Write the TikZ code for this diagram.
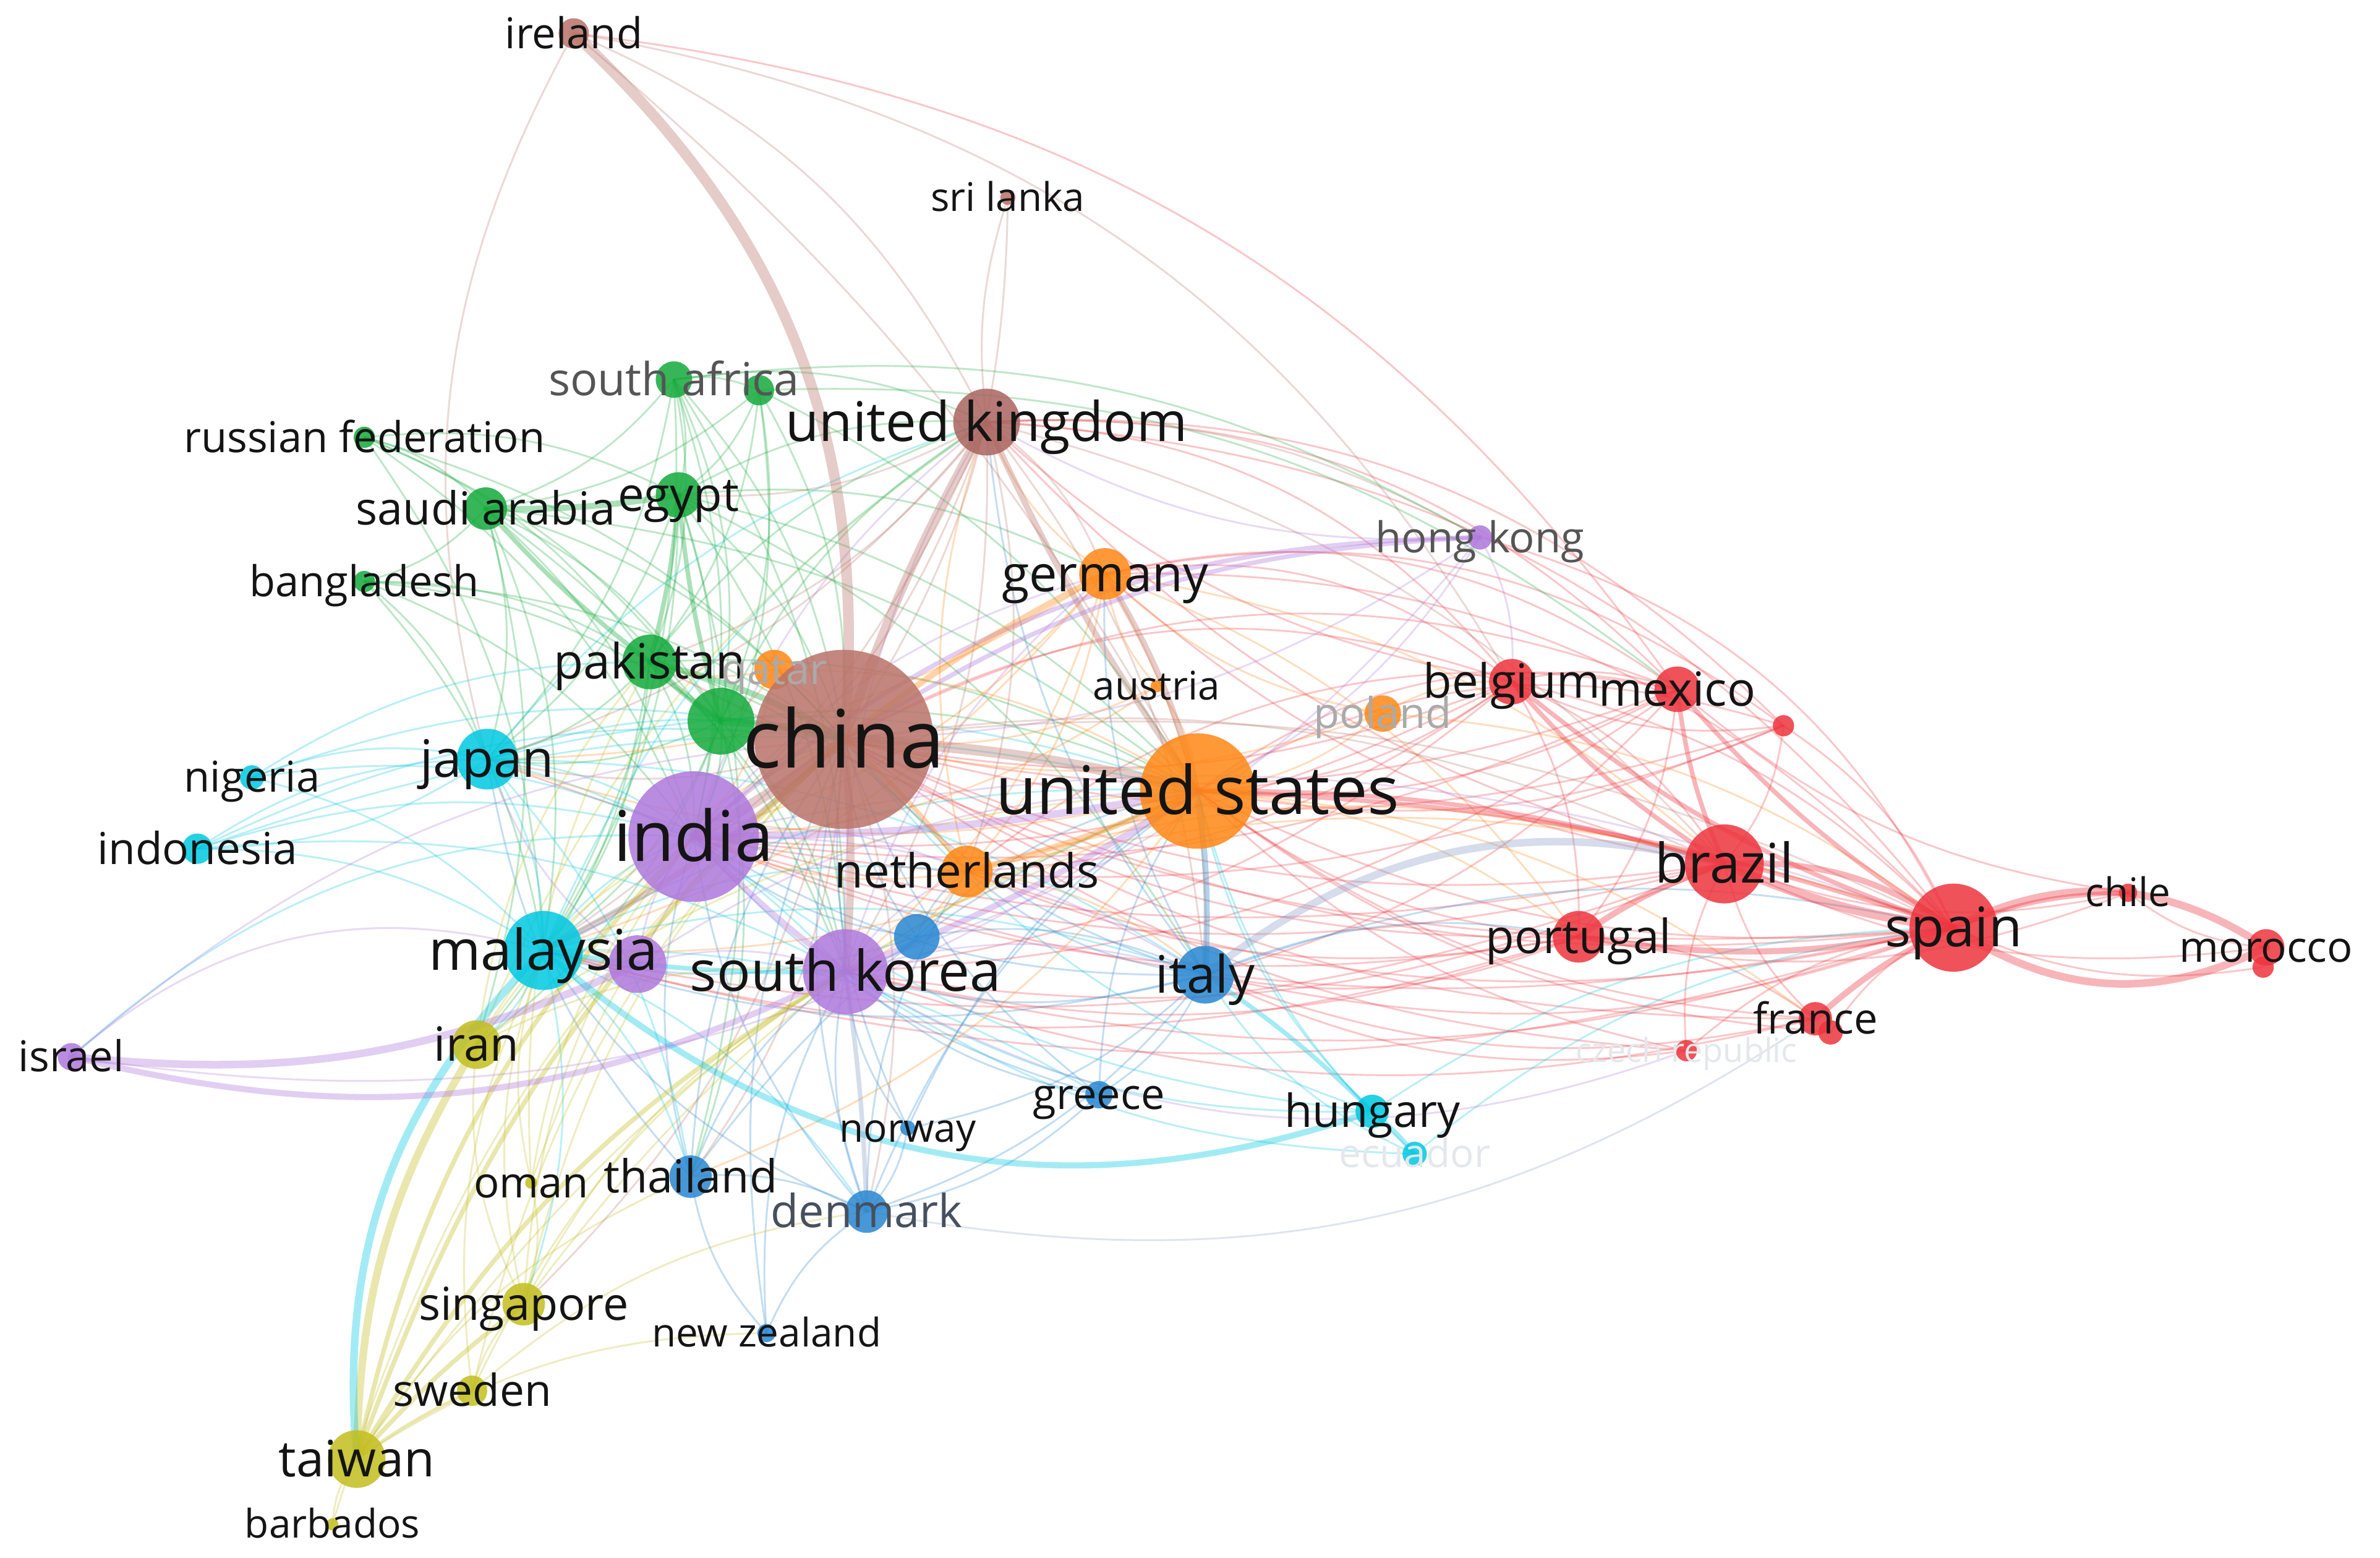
\documentclass[tikz,border=0pt]{standalone}
\usepackage{fontspec}
\setmainfont{Open Sans}
\pgfdeclarelayer{bgfill}
\pgfdeclarelayer{edges}
\pgfsetlayers{bgfill,edges,main}
\definecolor{cR}{RGB}{238,52,62}
\definecolor{cG}{RGB}{20,170,60}
\definecolor{cB}{RGB}{40,135,210}
\definecolor{cY}{RGB}{195,190,30}
\definecolor{cP}{RGB}{175,120,220}
\definecolor{cC}{RGB}{0,200,225}
\definecolor{cO}{RGB}{255,135,20}
\definecolor{cN}{RGB}{185,115,105}
\definecolor{cNd}{RGB}{170,100,95}
\definecolor{cIB}{RGB}{140,160,200}
\definecolor{txt}{RGB}{20,20,20}
\definecolor{gtxt}{RGB}{85,85,85}
\definecolor{ftxt}{RGB}{170,170,170}
\definecolor{vftxt}{RGB}{228,232,236}
\definecolor{dtxt}{RGB}{70,80,95}
\begin{document}
\begin{tikzpicture}[x=1pt,y=-1pt,
  dot/.style={circle,inner sep=0pt,minimum size=#1,draw=none,fill opacity=0.85},
  lab/.style={font=\fontsize{#1}{#1}\selectfont,inner sep=0pt,text height=0.7*#1pt,text depth=0pt,text=txt},
  edge/.style={draw opacity=0.28,line cap=round,line width=1.2pt},
  thick edge/.style={draw opacity=0.36,line cap=round},
]
\begin{pgfonlayer}{bgfill}
\fill[white] (0,0) rectangle (1568,1026);
\end{pgfonlayer}
\useasboundingbox (0,0) rectangle (1568,1026);
% nodes
\foreach \n/\x/\y/\r/\c in {
 ire/378/22/10/cN, sri/664/130/5/cN, saf/444/250/12/cG, gx/500/257/10/cG,
 uk/650/278/22/cNd, rus/240/288/7/cG, sau/320/335/14/cG, egy/447/326/15/cG,
 ban/240/383/7/cG, ger/728/378/17/cO, hk/975/354/8/cP, pak/428/436/18/cG,
 qat/510/441/13/cO, gc/475/475/22/cG, chn/556/487/59/cN, aut/762/452/4/cO,
 bel/996/449/15/cR, mex/1105/454/15/cR, pol/911/470/12/cO, rx/1175/478/7/cR,
 jpn/321/500/20/cC, nga/166/512/8/cC, usa/789/521/38/cO, ind/457/551/43/cP,
 idn/130/559/10/cC, nld/637/574/17/cO, bra/1136/569/26/cR, chl/1402/588/6/cR,
 esp/1287/611/29/cR, mar/1493/624/12/cR, mar2/1491/637/7/cR, prt/1040/617/17/cR,
 mys/358/626/26/cC, px/420/635/19/cP, kor/557/640/28/cP, bx/604/617/15/cB,
 ita/794/642/19/cB, fra/1196/671/11/cR, fra2/1206/680/8/cR, cze/1111/692/7/cR,
 isr/47/696/9/cP, irn/314/688/16/cY, grc/724/721/9/cB, hun/904/732/11/cC,
 nor/598/743/5/cB, ecu/932/760/8/cC, omn/350/779/4/cY, tha/455/775/14/cB,
 den/571/798/14/cB, sgp/345/859/14/cY, nzl/505/878/6/cB, swe/311/916/10/cY,
 twn/235/961/19/cY, brb/219/1004/4/cY}
 \node[dot=2*\r, fill=\c] (\n) at (\x,\y) {};
% edges
\begin{pgfonlayer}{edges}
\foreach \a/\b in {bel/chn,bel/usa,bel/esp,bel/bra,bel/ind,bel/uk,bel/prt,bel/mex,mex/usa,mex/chn,mex/prt,mex/ita,mex/kor,rx/esp,rx/bra,rx/usa,rx/chn,rx/bel,bra/chn,bra/kor,bra/ind,bra/uk,bra/mys,bra/ger,esp/chn,esp/usa,esp/ind,esp/kor,esp/ita,esp/mys,esp/nld,prt/chn,prt/usa,prt/ita,prt/kor,prt/fra,prt/ind,fra/bra,fra/usa,fra/chn,fra/ita,cze/esp,cze/bra,cze/usa,cze/chn,mar/bra,mar/chl,chl/bra,chl/mex,chl/prt,fra2/esp,fra2/usa,mar2/esp,prt/mys,bra/jpn,esp/pak,mex/ind,bel/kor,bel/nld,prt/nld,cze/ita,fra/kor,rx/ind}
 \draw[edge,draw=cR] (\a.center) to[bend left=16] (\b.center);
\foreach \a/\b in {uk/esp,uk/mex,uk/rx,ger/esp,ger/mex,ger/rx,ger/bel,ire/mex,usa/mex,nld/mex,chn/mex,chn/bel,usa/rx,uk/bel,hk/esp}
 \draw[edge,draw=cR] (\a.center) to[bend left=24] (\b.center);
\foreach \a/\b in {saf/egy,saf/sau,saf/pak,saf/chn,saf/gc,saf/gx,saf/ind,saf/mys,saf/jpn,saf/uk,gx/egy,gx/pak,gx/gc,gx/chn,gx/sau,gx/ind,gx/usa,rus/sau,rus/egy,rus/pak,rus/gc,rus/chn,rus/ind,sau/gc,sau/chn,sau/mys,sau/ind,sau/jpn,sau/usa,sau/ban,sau/kor,egy/chn,egy/mys,egy/ind,egy/usa,egy/kor,egy/jpn,egy/uk,egy/ita,ban/pak,ban/mys,ban/gc,ban/chn,ban/ind,pak/mys,pak/ind,pak/kor,pak/usa,pak/jpn,pak/uk,pak/irn,gc/mys,gc/ind,gc/kor,gc/usa,gc/uk,gc/jpn,gc/tha,rus/mys,ban/jpn,egy/ger,pak/nld,gc/irn,sau/irn,egy/tha,saf/kor}
 \draw[edge,draw=cG] (\a.center) to[bend left=16] (\b.center);
\foreach \a/\b in {jpn/chn,jpn/usa,jpn/ind,jpn/mys,jpn/kor,jpn/idn,jpn/tha,jpn/uk,nga/mys,nga/chn,nga/jpn,nga/ind,nga/pak,idn/mys,idn/chn,idn/jpn,idn/ind,idn/kor,mys/ind,mys/usa,mys/irn,mys/tha,mys/sgp,mys/uk,mys/ita,mys/nld,hun/usa,hun/chn,hun/kor,hun/esp,ecu/ita,ecu/usa,ecu/esp,ecu/kor,mys/den,mys/grc,jpn/ita,idn/usa,hun/ind}
 \draw[edge,draw=cC] (\a.center) to[bend left=16] (\b.center);
\foreach \a/\b in {ita/chn,ita/kor,ita/ind,ita/esp,ita/uk,ita/ger,ita/grc,ita/den,ita/nor,ita/nld,grc/chn,grc/kor,grc/usa,grc/den,nor/kor,nor/chn,nor/den,tha/chn,tha/kor,tha/ind,tha/usa,tha/den,den/chn,den/kor,den/usa,den/ind,den/mys,nzl/kor,nzl/chn,nzl/den,nzl/tha,bx/chn,bx/kor,bx/usa,bx/ita,bx/ind,bx/mys,ita/prt,ita/mys,grc/ind,den/nld,tha/jpn,nor/usa,bx/nld}
 \draw[edge,draw=cB] (\a.center) to[bend left=16] (\b.center);
\foreach \a/\b in {irn/chn,irn/ind,irn/kor,irn/usa,omn/chn,omn/mys,omn/ind,omn/sgp,sgp/chn,sgp/mys,sgp/kor,sgp/usa,sgp/ind,swe/chn,swe/mys,swe/kor,twn/usa,brb/twn,brb/chn,sgp/irn,swe/sgp,twn/tha,twn/nzl,swe/den,irn/pak,irn/uk,omn/pak}
 \draw[edge,draw=cY] (\a.center) to[bend left=16] (\b.center);
\foreach \a/\b in {hk/chn,hk/kor,hk/usa,hk/uk,ind/mys,ind/uk,ind/ita,ind/ger,px/chn,px/ind,px/kor,px/mys,kor/ita,kor/uk,kor/nld,ind/esp,hk/bel,px/jpn,kor/ger,px/usa,ind/nld}
 \draw[edge,draw=cP] (\a.center) to[bend left=16] (\b.center);
\foreach \a/\b in {ger/uk,ger/ind,ger/kor,ger/ita,ger/nld,ger/bra,ger/mys,qat/chn,qat/pak,qat/gc,qat/usa,aut/chn,aut/usa,aut/ger,pol/usa,pol/chn,pol/ger,pol/esp,pol/bel,nld/ind,nld/kor,nld/ita,nld/uk,usa/mys,usa/jpn,ger/prt,nld/esp,nld/bra,usa/prt,usa/fra,aut/ind,qat/ind,ger/jpn,usa/tha}
 \draw[edge,draw=cO] (\a.center) to[bend left=16] (\b.center);
\foreach \a/\b in {sri/chn,uk/ind,uk/mys,uk/bra,uk/hk,uk/ger,uk/pak,uk/egy,uk/kor,uk/jpn,uk/ita,uk/nld,chn/jpn,chn/tha,chn/den,chn/sgp,chn/bra,chn/esp}
 \draw[edge,draw=cN] (\a.center) to[bend left=16] (\b.center);
\draw[edge,draw=cN] (ire.center) to[bend left=20] (uk.center);
\draw[edge,draw=cN] (ire.center) to[bend left=10] (usa.center);
\draw[edge,draw=cN] (sri.center) to[bend right=12] (uk.center);
\draw[edge,draw=cN] (ire.center) to[bend right=22] (jpn.center);
\draw[edge,draw=cN] (ire.center) to[bend left=25] (bel.center);
\draw[edge,draw=cG] (gx.center) to[bend left=20] (mex.center);
\draw[edge,draw=cG] (saf.center) to[bend left=18] (hk.center);
\draw[edge,draw=cP] (kor.center) to[bend right=25] (cze.center);
\draw[edge,draw=cIB] (den.center) to[bend right=22] (fra.center);
\draw[edge,draw=cP] (isr.center) to[bend left=28] (mys.center);
\draw[edge,draw=cC] (isr.center) to[bend left=22] (ind.center);
\draw[edge,draw=cP] (isr.center) to[bend left=18] (chn.center);
\draw[edge,draw=cP] (isr.center) to[bend right=22] (usa.center);
% thick edges
\foreach \a/\b/\c/\w/\k in {
 ire/chn/cN/7/26, chn/uk/cN/6/5, chn/usa/cN/7/5, chn/ind/cN/7/5, chn/kor/cN/5/5,
 chn/mys/cN/4/8, gc/chn/cG/5/5, pak/chn/cG/4/8, twn/irn/cY/5/15, twn/chn/cY/3/14,
 twn/kor/cY/3/14, twn/ind/cY/3/16,
 twn/mys/cC/5/25, isr/px/cP/5/-15, isr/kor/cP/4/-20, esp/mar/cR/5/30, esp/mar/cR/5/-30,
 bra/esp/cR/6/-8, bra/esp/cR/4/18, esp/prt/cR/4/10, esp/mex/cR/3/8, esp/chl/cR/3/10, esp/fra/cR/4/-8,
 bra/prt/cR/4/-8, bra/mex/cR/3/8, bra/bel/cR/3/8, bel/esp/cR/3/-10, ita/bra/cIB/5/26,
 mys/hun/cC/4/-30, ita/hun/cC/3/5, hun/ecu/cC/3/5, usa/ger/cN/4/-8, usa/nld/cO/4/5,
 usa/ita/cB/4/5, usa/kor/cP/4/5, usa/ind/cP/5/5, usa/uk/cN/4/5, usa/bra/cR/3/8,
 usa/esp/cR/3/8, hk/ind/cP/3/-20, hk/chn/cP/3/-15, egy/sau/cG/4/5, pak/sau/cG/3/5,
 egy/pak/cG/3/5, gc/egy/cG/3/5, gc/pak/cG/4/5, twn/sgp/cY/3/5, twn/swe/cY/2/5,
 chn/ger/cO/4/5, chn/nld/cO/3/5, kor/ind/cP/4/5, kor/mys/cC/3/5, kor/den/cIB/3/3}
 \draw[thick edge,draw=\c,line width=\w pt] (\a.center) to[bend left=\k] (\b.center);
\end{pgfonlayer}
% labels
\foreach \n/\t/\s in {
 ire/ireland/28, sri/sri lanka/26, uk/united kingdom/36, rus/russian federation/28,
 sau/saudi arabia/30, egy/egypt/31, ban/bangladesh/28, ger/germany/33,
 pak/pakistan/32, chn/china/53, aut/austria/26, bel/belgium/31, mex/mexico/31,
 jpn/japan/34, nga/nigeria/28, usa/united states/44, ind/india/46, idn/indonesia/29,
 nld/netherlands/31, bra/brazil/36, chl/chile/26, esp/spain/36, mar/morocco/28,
 prt/portugal/31, mys/malaysia/37, kor/south korea/37, ita/italy/34, fra/france/28,
 isr/israel/28, irn/iran/31, grc/greece/28, hun/hungary/30, nor/norway/26,
 omn/oman/28, tha/thailand/30, sgp/singapore/30, nzl/new zealand/26, swe/sweden/29,
 twn/taiwan/33, brb/barbados/26}
 \node[lab=\s] at (\n) {\t};
\node[lab=30,text=gtxt] at (saf) {south africa};
\node[lab=28,text=gtxt] at (hk) {hong kong};
\node[lab=30,text=dtxt] at (den) {denmark};
\node[lab=28,text=ftxt] at (qat) {qatar};
\node[lab=28,text=ftxt] at (pol) {poland};
\node[lab=26,text=vftxt] at (ecu) {ecuador};
\node[lab=22,text=vftxt] at (cze) {czech republic};
\end{tikzpicture}
\end{document}
